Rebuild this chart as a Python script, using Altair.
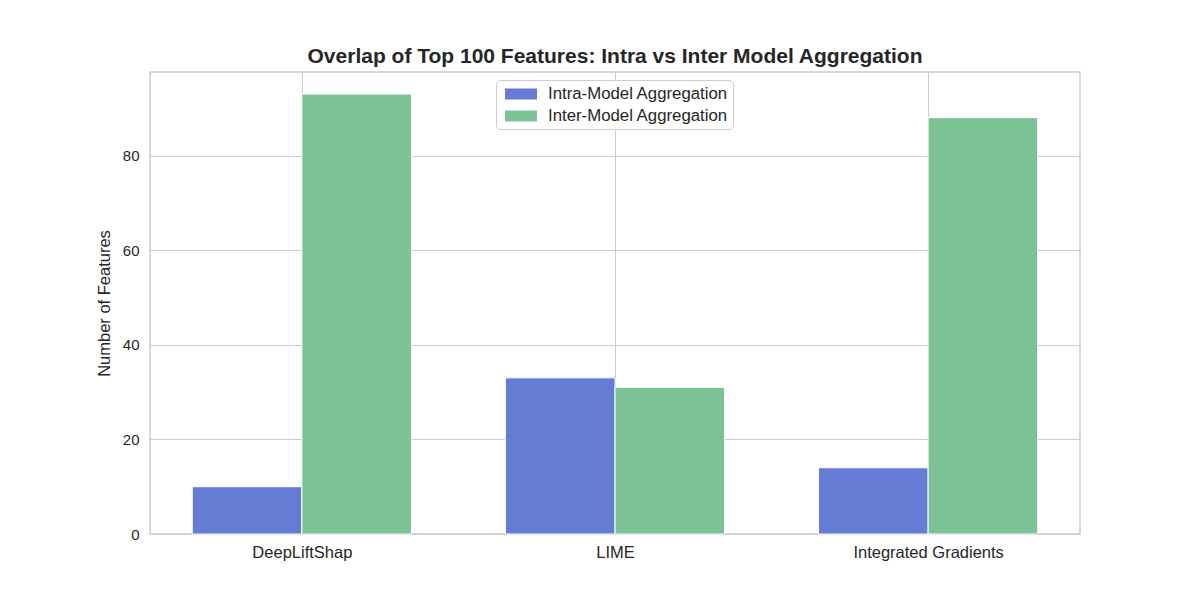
import altair as alt
import pandas as pd

methods = ["DeepLiftShap", "LIME", "Integrated Gradients"]
intra_values = [10, 33, 14]
inter_values = [93, 31, 88]
series_names = ["Intra-Model Aggregation", "Inter-Model Aggregation"]
colors = ["#657cd4", "#7bc294"]

rows = []
for i, m in enumerate(methods):
    rows.append({"idx": i, "method": m, "series": series_names[0], "order": 0, "value": intra_values[i]})
    rows.append({"idx": i, "method": m, "series": series_names[1], "order": 1, "value": inter_values[i]})
df = pd.DataFrame(rows)

bar_w = 0.35
label_expr = "datum.value == 0 ? 'DeepLiftShap' : datum.value == 1 ? 'LIME' : 'Integrated Gradients'"
FONT = "Liberation Sans"

chart = alt.Chart(df).transform_calculate(
    x0=f"datum.idx + (datum.order == 0 ? -{bar_w} : 0)",
    x1=f"datum.idx + (datum.order == 0 ? 0 : {bar_w})",
).mark_bar(stroke="white", strokeWidth=1).encode(
    x=alt.X("x0:Q", scale=alt.Scale(domain=[-0.485, 2.485], nice=False, zero=False),
            axis=alt.Axis(values=[0, 1, 2], labelExpr=label_expr, title=None,
                          labelFontSize=16.5, labelColor="#262626", labelPadding=10,
                          ticks=False, domain=False, grid=True, gridColor="#cccccc",
                          labelFont=FONT)),
    x2="x1:Q",
    y=alt.Y("value:Q", scale=alt.Scale(domain=[0, 97.65], nice=False, zero=True),
            axis=alt.Axis(values=[0, 20, 40, 60, 80], title="Number of Features",
                          titleFontSize=16.5, titleFontWeight="normal", titleColor="#262626",
                          titlePadding=10, labelFontSize=15, labelColor="#262626",
                          labelPadding=11, ticks=False, domain=False, grid=True,
                          gridColor="#cccccc", labelFont=FONT,
                          titleFont=FONT)),
    y2=alt.datum(0),
    color=alt.Color("series:N", scale=alt.Scale(domain=series_names, range=colors),
                    legend=alt.Legend(title=None, orient="none", legendX=346, legendY=8,
                                      labelFontSize=16.8, labelColor="#262626",
                                      labelFont=FONT, labelLimit=0,
                                      symbolType="M-0.5,-0.55H2.7V0.55H-0.5Z", symbolSize=400,
                                      symbolStrokeWidth=0, fillColor="white",
                                      strokeColor="#cccccc", cornerRadius=4,
                                      padding=4, rowPadding=3, labelOffset=28)),
    order="order:Q",
).properties(
    width=930, height=462,
    title=alt.TitleParams("Overlap of Top 100 Features: Intra vs Inter Model Aggregation",
                          fontSize=21, fontWeight="bold", color="#262626",
                          font=FONT, anchor="middle", offset=5),
    autosize=alt.AutoSizeParams(type="none"),
    padding={"left": 150, "top": 72, "right": 120, "bottom": 66},
).configure_view(stroke="#cccccc", strokeWidth=1.5)

chart.save("out.html", embed_options={"renderer": "svg", "actions": False})
